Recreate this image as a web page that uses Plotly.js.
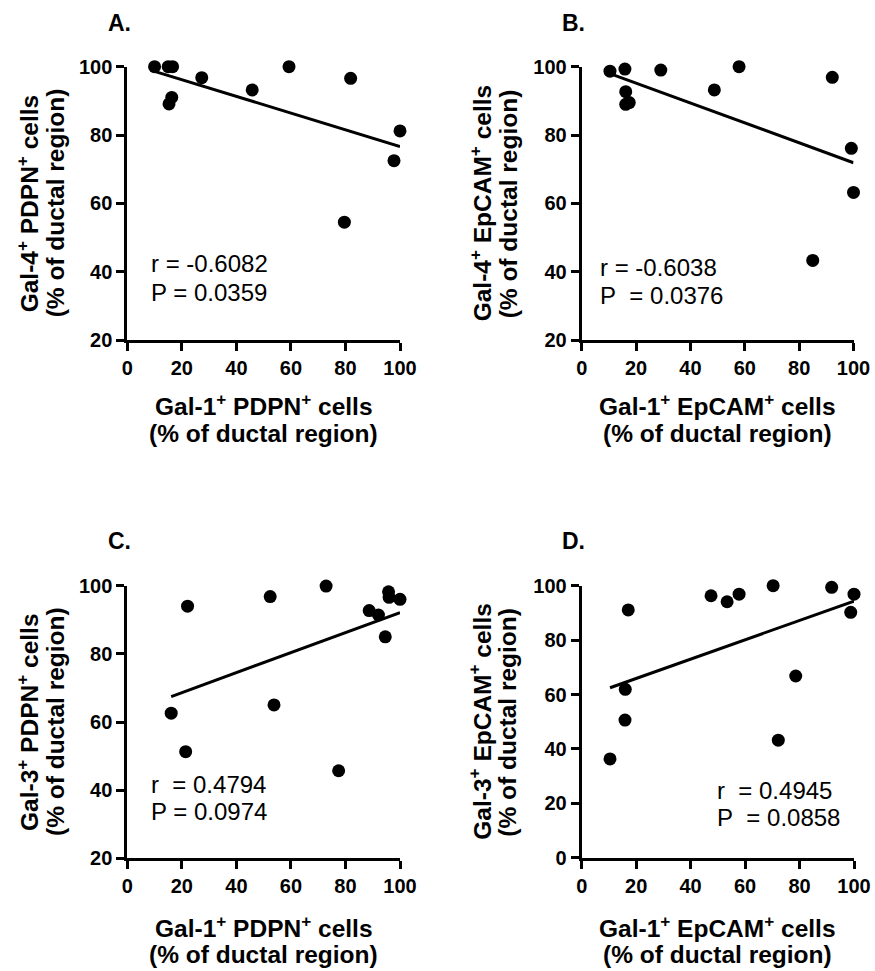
<!DOCTYPE html>
<html>
<head>
<meta charset="utf-8">
<script src="https://cdn.plot.ly/plotly-3.0.1.min.js"></script>
<style>html,body{margin:0;padding:0;background:#fff}#chart{width:875px;height:971px}</style>
</head>
<body>
<div id="chart"></div>
<script>
// ---- Data ----
// Panel A: Gal-1+ PDPN+ vs Gal-4+ PDPN+
const aX = [10, 15, 16.6, 16.3, 15.3, 27.3, 45.8, 59.3, 81.9, 100, 97.8, 79.6];
const aY = [100, 100, 100, 91, 89.1, 96.8, 93.2, 100, 96.6, 81.2, 72.5, 54.5];
// Panel B: Gal-1+ EpCAM+ vs Gal-4+ EpCAM+
const bX = [10.4, 15.9, 29.1, 57.9, 92.2, 16.2, 16.2, 17.5, 48.8, 99.2, 100, 85.0];
const bY = [98.7, 99.3, 99.0, 100, 96.9, 92.7, 89.0, 89.5, 93.2, 76.1, 63.2, 43.3];
// Panel C: Gal-1+ PDPN+ vs Gal-3+ PDPN+
const cX = [22.1, 52.4, 72.9, 95.8, 96.0, 100, 88.7, 92.1, 94.6, 16.1, 53.8, 21.4, 77.5];
const cY = [94.0, 96.8, 99.9, 98.2, 96.6, 96.0, 92.7, 91.4, 85.0, 62.6, 65.0, 51.3, 45.7];
// Panel D: Gal-1+ EpCAM+ vs Gal-3+ EpCAM+
const dX = [17.1, 47.5, 53.4, 57.8, 70.3, 91.8, 100, 98.8, 16.0, 15.9, 10.4, 78.6, 72.2];
const dY = [91.1, 96.3, 94.1, 96.9, 100, 99.4, 96.9, 90.2, 61.9, 50.6, 36.3, 66.8, 43.2];

const panelLetters = ['A.', 'B.', 'C.', 'D.'];
const statR = ['r = -0.6082', 'r = -0.6038', 'r\u00a0 = 0.4794', 'r\u00a0 = 0.4945'];
const statP = ['P = 0.0359', 'P\u00a0 = 0.0376', 'P = 0.0974', 'P\u00a0 = 0.0858'];
const xTitle1 = ['Gal-1<sup>+</sup> PDPN<sup>+</sup> cells', 'Gal-1<sup>+</sup> EpCAM<sup>+</sup> cells',
                 'Gal-1<sup>+</sup> PDPN<sup>+</sup> cells', 'Gal-1<sup>+</sup> EpCAM<sup>+</sup> cells'];
const yTitle1 = ['Gal-4<sup>+</sup> PDPN<sup>+</sup> cells', 'Gal-4<sup>+</sup> EpCAM<sup>+</sup> cells',
                 'Gal-3<sup>+</sup> PDPN<sup>+</sup> cells', 'Gal-3<sup>+</sup> EpCAM<sup>+</sup> cells'];
const title2 = '(% of ductal region)';
const yRanges = [[20, 100], [20, 100], [20, 100], [0, 100]];

// ---- Layout helpers ----
const W = 875, H = 971;
const F = 'Arial, Liberation Sans, sans-serif';
const px = v => v / W;
const py = v => 1 - v / H;

// plot boxes in pixels: [left, right, top, bottom]
const boxes = [
  [127.3, 400, 66.7, 340],
  [581.7, 853.5, 66.7, 340],
  [127.3, 400, 585.7, 858.3],
  [581.7, 854, 585.7, 857.7]
];
const datasets = [[aX, aY], [bX, bY], [cX, cY], [dX, dY]];

function fit(xs, ys) {
  const n = xs.length;
  const mx = xs.reduce((s, v) => s + v, 0) / n;
  const my = ys.reduce((s, v) => s + v, 0) / n;
  let sxy = 0, sxx = 0;
  for (let i = 0; i < n; i++) { sxy += (xs[i] - mx) * (ys[i] - my); sxx += (xs[i] - mx) ** 2; }
  const m = sxy / sxx, b = my - m * mx;
  const x0 = Math.min(...xs), x1 = Math.max(...xs);
  return { x: [x0, x1], y: [m * x0 + b, m * x1 + b] };
}

const traces = [];
const layout = {
  width: W, height: H,
  margin: { l: 0, r: 0, t: 0, b: 0 },
  paper_bgcolor: '#fff', plot_bgcolor: '#fff',
  showlegend: false,
  annotations: []
};

const xTitleY = [[405, 433], [405, 433], [926, 954], [926, 954]];
const yTitleX = [[27, 55], [480, 508], [27, 55], [480, 508]];
const letterPos = [[119, 23], [573, 23], [119, 541], [573, 541]];
const statPos = [[149, 264, 292], [598, 268, 295], [149, 784, 811], [715, 790, 817]];

boxes.forEach((bx, i) => {
  const k = i === 0 ? '' : String(i + 1);
  const [l, r, t, b] = bx;
  const [xs, ys] = datasets[i];
  const common = {
    showline: true, linecolor: '#000', linewidth: 3,
    ticks: 'outside', ticklen: 8, tickwidth: 3, tickcolor: '#000',
    showgrid: false, zeroline: false, fixedrange: true,
    tickmode: 'linear', dtick: 20,
    tickfont: { family: F, size: 20, color: '#000', weight: 'bold' }
  };
  layout['xaxis' + k] = Object.assign({}, common, {
    domain: [px(l), px(r)], range: [0, 100], tick0: 0, anchor: 'y' + k
  });
  layout['yaxis' + k] = Object.assign({}, common, {
    domain: [py(b), py(t)], range: yRanges[i], tick0: yRanges[i][0], anchor: 'x' + k
  });
  traces.push({
    x: xs, y: ys, xaxis: 'x' + k, yaxis: 'y' + k, type: 'scatter', mode: 'markers',
    marker: { size: 13, color: '#000' }, cliponaxis: false, hoverinfo: 'skip'
  });
  const f = fit(xs, ys);
  traces.push({
    x: f.x, y: f.y, xaxis: 'x' + k, yaxis: 'y' + k, type: 'scatter', mode: 'lines',
    line: { color: '#000', width: 3 }, cliponaxis: false, hoverinfo: 'skip'
  });

  const A = layout.annotations;
  const cx = (l + r) / 2, cy = (t + b) / 2;
  const bold = { family: F, size: 24.5, color: '#000', weight: 'bold' };
  A.push({ xref: 'paper', yref: 'paper', x: px(letterPos[i][0]), y: py(letterPos[i][1]),
    xanchor: 'center', yanchor: 'middle', showarrow: false, text: panelLetters[i],
    font: { family: F, size: 23, color: '#000', weight: 'bold' } });
  A.push({ xref: 'paper', yref: 'paper', x: px(cx), y: py(xTitleY[i][0]),
    xanchor: 'center', yanchor: 'middle', showarrow: false, text: xTitle1[i], font: bold });
  A.push({ xref: 'paper', yref: 'paper', x: px(cx), y: py(xTitleY[i][1]),
    xanchor: 'center', yanchor: 'middle', showarrow: false, text: title2, font: bold });
  A.push({ xref: 'paper', yref: 'paper', x: px(yTitleX[i][0]), y: py(cy), textangle: -90,
    xanchor: 'center', yanchor: 'middle', showarrow: false, text: yTitle1[i], font: bold });
  A.push({ xref: 'paper', yref: 'paper', x: px(yTitleX[i][1]), y: py(cy), textangle: -90,
    xanchor: 'center', yanchor: 'middle', showarrow: false, text: title2, font: bold });
  A.push({ xref: 'paper', yref: 'paper', x: px(statPos[i][0]), y: py(statPos[i][1]),
    xanchor: 'left', yanchor: 'middle', showarrow: false, text: statR[i],
    font: { family: F, size: 24, color: '#000' } });
  A.push({ xref: 'paper', yref: 'paper', x: px(statPos[i][0]), y: py(statPos[i][2]),
    xanchor: 'left', yanchor: 'middle', showarrow: false, text: statP[i],
    font: { family: F, size: 24, color: '#000' } });
});

Plotly.newPlot('chart', traces, layout, { staticPlot: true, displayModeBar: false });
</script>
</body>
</html>
